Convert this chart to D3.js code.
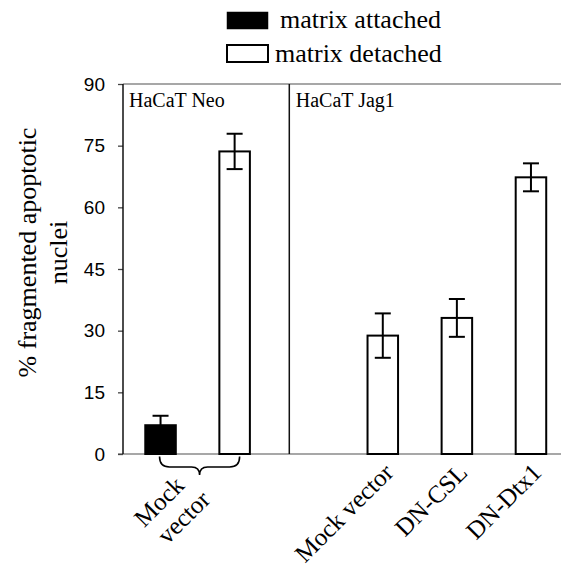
<!DOCTYPE html>
<html>
<head>
<meta charset="utf-8">
<script src="https://cdn.jsdelivr.net/npm/d3@7"></script>
<style>
  html, body { margin: 0; padding: 0; background: #fff; }
  svg { display: block; }
</style>
</head>
<body>
<svg id="chart" width="561" height="575"></svg>
<script>
// ---- data ----
const slots = ["neo-attached", "neo-detached", "gap", "jag-mock", "jag-csl", "jag-dtx1"];
const seriesNames = ["matrix attached", "matrix detached"];
const attachedSlots = ["neo-attached"];
const attachedValues = [7.0];
const attachedErrors = [2.3];
const detachedSlots = ["neo-detached", "jag-mock", "jag-csl", "jag-dtx1"];
const detachedValues = [73.6, 28.8, 33.1, 67.3];
const detachedErrors = [4.3, 5.4, 4.6, 3.4];
const jagLabels = ["Mock vector", "DN-CSL", "DN-Dtx1"];
const jagLabelSlots = ["jag-mock", "jag-csl", "jag-dtx1"];
const neoLabelLines = ["Mock", "vector"];
const panelLabels = ["HaCaT Neo", "HaCaT Jag1"];
const yTicks = [0, 15, 30, 45, 60, 75, 90];
const yLabelLines = ["% fragmented apoptotic", "nuclei"];

// ---- layout ----
const svg = d3.select("#chart");
const W = 561;
const plotLeft = 123, plotTop = 84, plotBottom = 454;
const x = d3.scaleBand().domain(slots).range([123.5, 568]).paddingInner(0.588).paddingOuter(0.294);
const y = d3.scaleLinear().domain([0, 90]).range([plotBottom, plotTop]);
const serif = "'Liberation Serif','Times New Roman',serif";
const sans = "'Liberation Sans',Arial,sans-serif";

// frame lines
svg.append("line").attr("x1", plotLeft).attr("x2", W).attr("y1", y(90)).attr("y2", y(90))
  .attr("stroke", "#8a8a8a").attr("stroke-width", 1.5);
svg.append("line").attr("x1", plotLeft - 5).attr("x2", W).attr("y1", y(0)).attr("y2", y(0))
  .attr("stroke", "#8a8a8a").attr("stroke-width", 1.5);

// y axis
const yAxis = d3.axisLeft(y).tickValues(yTicks).tickSize(5).tickPadding(13);
const gy = svg.append("g").attr("transform", `translate(${plotLeft},0)`).call(yAxis);
gy.select(".domain").remove();
gy.selectAll(".tick line").attr("stroke", "#444").attr("stroke-width", 1.3);
gy.selectAll(".tick text").attr("font-family", sans).attr("font-size", 19).attr("fill", "#000");
svg.append("line").attr("x1", plotLeft).attr("x2", plotLeft).attr("y1", y(90)).attr("y2", y(0))
  .attr("stroke", "#111").attr("stroke-width", 1.5);

// separator between panels
const sepX = 289.3;
svg.append("line").attr("x1", sepX).attr("x2", sepX).attr("y1", y(90)).attr("y2", y(0))
  .attr("stroke", "#111").attr("stroke-width", 1.5);

// panel labels
svg.append("text").attr("x", plotLeft + 6).attr("y", 106.5).text(panelLabels[0])
  .attr("font-family", serif).attr("font-size", 20);
svg.append("text").attr("x", sepX + 6.5).attr("y", 106.5).text(panelLabels[1])
  .attr("font-family", serif).attr("font-size", 20);

// bars
function drawSeries(slotArr, vals, errs, fill) {
  const g = svg.append("g");
  slotArr.forEach((s, i) => {
    g.append("rect").attr("x", x(s)).attr("width", x.bandwidth())
      .attr("y", y(vals[i])).attr("height", y(0) - y(vals[i]))
      .attr("fill", fill).attr("stroke", "#000").attr("stroke-width", 2);
  });
  slotArr.forEach((s, i) => {
    const cx = x(s) + x.bandwidth() / 2;
    const hi = y(vals[i] + errs[i]), lo = y(vals[i] - errs[i]);
    g.append("line").attr("x1", cx).attr("x2", cx).attr("y1", hi).attr("y2", lo)
      .attr("stroke", "#000").attr("stroke-width", 2);
    [hi, lo].forEach(yy => g.append("line").attr("x1", cx - 8).attr("x2", cx + 8)
      .attr("y1", yy).attr("y2", yy).attr("stroke", "#000").attr("stroke-width", 2));
  });
}
drawSeries(attachedSlots, attachedValues, attachedErrors, "#000");
drawSeries(detachedSlots, detachedValues, detachedErrors, "#fff");

// brace under HaCaT Neo bars
const bl = x(slots[0]) + x.bandwidth() / 2 - 1;
const br = x(slots[1]) + x.bandwidth() / 2 + 5;
const bm = (bl + br) / 2;
const by0 = 456.5, by1 = 467, by2 = 475;
svg.append("path")
  .attr("d", `M${bl},${by0} Q${bl},${by1} ${bl + 10},${by1} L${bm - 8},${by1} Q${bm},${by1} ${bm},${by2} Q${bm},${by1} ${bm + 8},${by1} L${br - 10},${by1} Q${br},${by1} ${br},${by0}`)
  .attr("fill", "none").attr("stroke", "#000").attr("stroke-width", 1.6);

// x labels
const fs = 25;
[[bm - 14, 487], [bm + 12, 501]].forEach((p, i) => {
  svg.append("text").attr("transform", `translate(${p[0]},${p[1]}) rotate(-45)`)
    .attr("text-anchor", "end").attr("font-family", serif).attr("font-size", fs)
    .text(neoLabelLines[i]);
});
jagLabelSlots.forEach((s, i) => {
  const cx = x(s) + x.bandwidth() / 2;
  svg.append("text").attr("transform", `translate(${cx + 12},${474}) rotate(-45)`)
    .attr("text-anchor", "end").attr("font-family", serif).attr("font-size", fs)
    .text(jagLabels[i]);
});

// y label
yLabelLines.forEach((t, i) => {
  svg.append("text").attr("transform", `translate(${36 + i * 31},252.5) rotate(-90)`)
    .attr("text-anchor", "middle").attr("font-family", serif).attr("font-size", 26)
    .text(t);
});

// legend
const legend = svg.append("g");
seriesNames.forEach((n, i) => {
  legend.append("rect").attr("x", 227).attr("y", 12 + i * 33).attr("width", 41).attr("height", 17)
    .attr("fill", i === 0 ? "#000" : "#fff").attr("stroke", "#000").attr("stroke-width", i === 0 ? 0.5 : 2);
  legend.append("text").attr("x", i === 0 ? 280 : 275).attr("y", i === 0 ? 27.5 : 62)
    .attr("font-family", serif).attr("font-size", 26).text(n);
});
</script>
</body>
</html>
